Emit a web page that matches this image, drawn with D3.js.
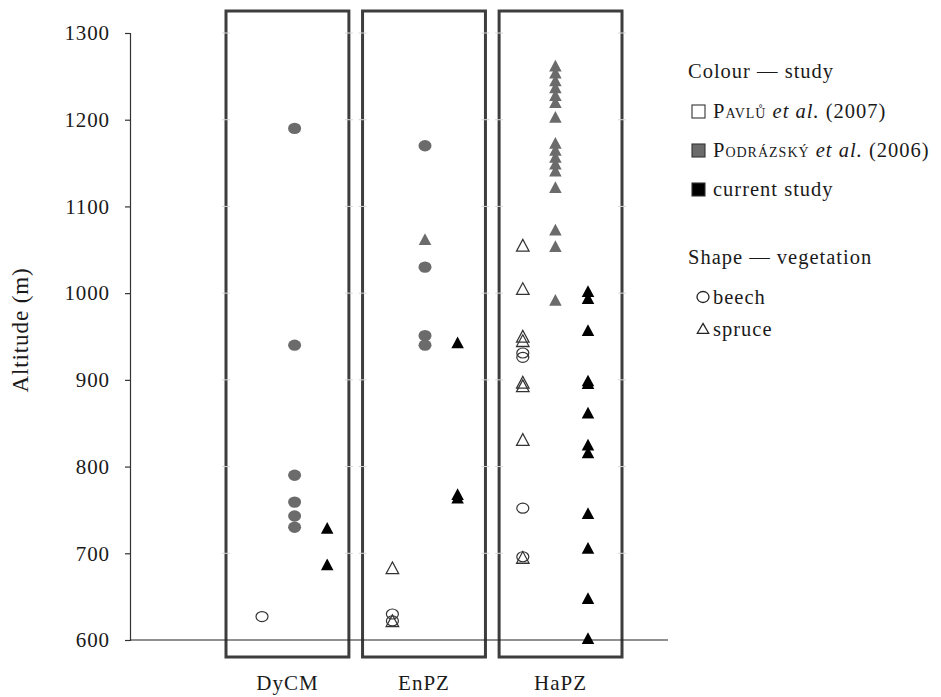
<!DOCTYPE html>
<html>
<head>
<meta charset="utf-8">
<script src="https://cdn.jsdelivr.net/npm/d3@7"></script>
<style>
  html, body { margin: 0; padding: 0; background: #fff; }
  svg { display: block; font-family: "Liberation Serif", "DejaVu Serif", serif; }
</style>
</head>
<body>
<svg id="chart" width="941" height="697"></svg>
<script>
// Sites and studies
const sites = ["DyCM", "EnPZ", "HaPZ"];
const studies = ["pavlu", "podrazsky", "current"];
const yTicks = [600, 700, 800, 900, 1000, 1100, 1200, 1300];

// Plot altitudes (m), by site, study and vegetation type
const dycmPavluBeech = [627];
const dycmPodrazskyBeech = [1190, 940, 790, 759, 743, 730];
const dycmCurrentSpruce = [727, 685];

const enpzPavluBeech = [630, 622];
const enpzPavluSpruce = [681, 620];
const enpzPodrazskyBeech = [1170, 1030, 951, 940];
const enpzPodrazskySpruce = [1060];
const enpzCurrentSpruce = [941, 766, 762];

const hapzPavluBeech = [931, 926, 752, 696];
const hapzPavluSpruce = [1053, 1003, 948, 943, 895, 891, 829, 693];
const hapzPodrazskySpruce = [1260, 1252, 1243, 1235, 1226, 1218, 1201,
                             1171, 1163, 1155, 1147, 1139, 1120, 1071, 1052, 990];
const hapzCurrentSpruce = [1000, 992, 955, 897, 894, 860, 823, 814, 744, 704, 646, 600];

const groups = [
  { site: "DyCM", study: "pavlu",     veg: "beech",  values: dycmPavluBeech },
  { site: "DyCM", study: "podrazsky", veg: "beech",  values: dycmPodrazskyBeech },
  { site: "DyCM", study: "current",   veg: "spruce", values: dycmCurrentSpruce },
  { site: "EnPZ", study: "pavlu",     veg: "beech",  values: enpzPavluBeech },
  { site: "EnPZ", study: "pavlu",     veg: "spruce", values: enpzPavluSpruce },
  { site: "EnPZ", study: "podrazsky", veg: "beech",  values: enpzPodrazskyBeech },
  { site: "EnPZ", study: "podrazsky", veg: "spruce", values: enpzPodrazskySpruce },
  { site: "EnPZ", study: "current",   veg: "spruce", values: enpzCurrentSpruce },
  { site: "HaPZ", study: "pavlu",     veg: "beech",  values: hapzPavluBeech },
  { site: "HaPZ", study: "pavlu",     veg: "spruce", values: hapzPavluSpruce },
  { site: "HaPZ", study: "podrazsky", veg: "spruce", values: hapzPodrazskySpruce },
  { site: "HaPZ", study: "current",   veg: "spruce", values: hapzCurrentSpruce }
];

const points = groups.flatMap(g => g.values.map(v => ({ ...g, alt: v })));

const fillOf = { pavlu: "#ffffff", podrazsky: "#6b6b6b", current: "#000000" };

const svg = d3.select("#chart");

// Scales
const y = d3.scaleLinear().domain([600, 1300]).range([640, 33]);
const box = d3.scaleBand().domain(sites).range([226, 622]).paddingInner(0.1);
// one column per study within each site, with an empty column between sites
const col = d3.scaleLinear().domain([0, 10]).range([262, 588]);
const colIndex = d => sites.indexOf(d.site) * 4 + studies.indexOf(d.study);

// Site frames
const boxTop = 11, boxBottom = 657;
svg.append("g").selectAll("rect").data(sites).join("rect")
  .attr("x", d => box(d))
  .attr("y", boxTop)
  .attr("width", box.bandwidth())
  .attr("height", boxBottom - boxTop)
  .attr("fill", "none")
  .attr("stroke", "#3d3d3d")
  .attr("stroke-width", 3);

// faint grid stubs at frame edges
const stubs = svg.append("g").attr("stroke", "#d8d8d8").attr("stroke-width", 1);
sites.forEach(s => {
  yTicks.slice(1).forEach(t => {
    [box(s), box(s) + box.bandwidth()].forEach(xe => {
      stubs.append("line")
        .attr("x1", xe - 4).attr("x2", xe + 4)
        .attr("y1", y(t)).attr("y2", y(t));
    });
  });
});

// Y axis
const axisX = 130;
const yAxis = svg.append("g")
  .attr("transform", `translate(${axisX},0)`)
  .call(d3.axisLeft(y).tickValues(yTicks).tickSize(5).tickPadding(15).tickFormat(d3.format("d")));
yAxis.select(".domain").attr("stroke", "#333").attr("stroke-width", 1.2);
yAxis.selectAll(".tick line").attr("stroke", "#333").attr("stroke-width", 1.2);
yAxis.selectAll(".tick text")
  .attr("font-family", "Liberation Serif, serif")
  .attr("font-size", 21)
  .attr("letter-spacing", 0.9)
  .attr("fill", "#1a1a1a");

// baseline at 600 m
svg.append("line")
  .attr("x1", axisX).attr("x2", 668)
  .attr("y1", y(600)).attr("y2", y(600))
  .attr("stroke", "#222").attr("stroke-width", 1.2);

// Y axis title
svg.append("text")
  .attr("transform", `translate(28,330) rotate(-90)`)
  .attr("text-anchor", "middle")
  .attr("font-size", 23)
  .attr("letter-spacing", 0.9)
  .attr("fill", "#1a1a1a")
  .text("Altitude (m)");

// Site labels
svg.append("g").selectAll("text").data(sites).join("text")
  .attr("x", d => box(d) + box.bandwidth() / 2)
  .attr("y", 690)
  .attr("text-anchor", "middle")
  .attr("font-size", 21)
  .attr("letter-spacing", 1)
  .attr("fill", "#1a1a1a")
  .text(d => d);

// Markers
const tri = d3.symbol().type(d3.symbolTriangle).size(68);
const marks = svg.append("g");

marks.selectAll("ellipse").data(points.filter(d => d.veg === "beech")).join("ellipse")
  .attr("cx", d => col(colIndex(d)))
  .attr("cy", d => y(d.alt))
  .attr("rx", d => d.study === "pavlu" ? 6 : 6.5)
  .attr("ry", d => d.study === "pavlu" ? 5 : 5.7)
  .attr("fill", d => d.study === "pavlu" ? "none" : fillOf[d.study])
  .attr("stroke", d => d.study === "pavlu" ? "#333" : "none")
  .attr("stroke-width", 1.2);

marks.selectAll("path").data(points.filter(d => d.veg === "spruce")).join("path")
  .attr("transform", d => `translate(${col(colIndex(d))},${y(d.alt)}) scale(1,1.08)`)
  .attr("d", tri)
  .attr("fill", d => d.study === "pavlu" ? "none" : fillOf[d.study])
  .attr("stroke", d => d.study === "pavlu" ? "#333" : "none")
  .attr("stroke-width", 1.2);

// Legend
const lg = svg.append("g").attr("font-size", 20.5).attr("letter-spacing", 1).attr("fill", "#1a1a1a");
lg.append("text").attr("x", 688).attr("y", 78).text("Colour — study");

const studyLegend = [
  { study: "pavlu",     y: 111 },
  { study: "podrazsky", y: 150 },
  { study: "current",   y: 189 }
];
studyLegend.forEach(item => {
  lg.append("rect")
    .attr("x", 692).attr("y", item.y - 6).attr("width", 13).attr("height", 13)
    .attr("fill", fillOf[item.study])
    .attr("stroke", "#333").attr("stroke-width", 1.1);
});
const t1 = lg.append("text").attr("x", 713).attr("y", studyLegend[0].y + 7);
t1.append("tspan").attr("font-variant", "small-caps").text("Pavlů");
t1.append("tspan").attr("font-style", "italic").text(" et al.");
t1.append("tspan").text(" (2007)");
const t2 = lg.append("text").attr("x", 713).attr("y", studyLegend[1].y + 7);
t2.append("tspan").attr("font-variant", "small-caps").text("Podrázský");
t2.append("tspan").attr("font-style", "italic").text(" et al.");
t2.append("tspan").text(" (2006)");
lg.append("text").attr("x", 713).attr("y", studyLegend[2].y + 7).text("current study");

lg.append("text").attr("x", 688).attr("y", 264).text("Shape — vegetation");
lg.append("ellipse").attr("cx", 703).attr("cy", 297).attr("rx", 6).attr("ry", 5.5)
  .attr("fill", "none").attr("stroke", "#222").attr("stroke-width", 1.3);
lg.append("text").attr("x", 713).attr("y", 304).text("beech");
lg.append("path")
  .attr("transform", "translate(703,330)")
  .attr("d", d3.symbol().type(d3.symbolTriangle).size(56)())
  .attr("fill", "none").attr("stroke", "#222").attr("stroke-width", 1.3);
lg.append("text").attr("x", 713).attr("y", 336).text("spruce");
</script>
</body>
</html>
